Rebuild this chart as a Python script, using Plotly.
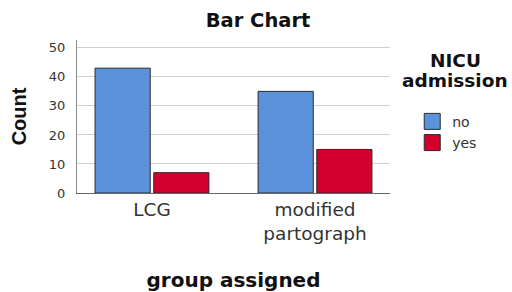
import plotly.graph_objects as go

categories = ["LCG", "modified<br>partograph"]
series_names = ["no", "yes"]
no_counts = [43, 35]
yes_counts = [7, 15]
y_ticks = [0, 10, 20, 30, 40, 50]

colors = ["#5B92DB", "#D3002F"]
font = "DejaVu Sans, Liberation Sans, sans-serif"

fig = go.Figure()
for name, vals, col in zip(series_names, [no_counts, yes_counts], colors):
    fig.add_trace(go.Bar(x=categories, y=vals, name=name, showlegend=False,
                         marker=dict(color=col, line=dict(color="#2a2a2a", width=1))))
# legend entries with larger square swatches
for name, col in zip(series_names, colors):
    fig.add_trace(go.Scatter(x=[None], y=[None], mode="markers", name=name,
                             marker=dict(symbol="square", size=16, color=col,
                                         line=dict(color="#2a2a2a", width=1))))

fig.update_layout(
    width=512, height=292,
    margin=dict(l=77, r=122, t=40, b=99),
    paper_bgcolor="white", plot_bgcolor="white",
    font=dict(family=font, color="#222222"),
    barmode="group", bargap=0.28, bargroupgap=0.06,
    title=dict(text="<b>Bar Chart</b>", x=0.504, xanchor="center", y=0.931, yanchor="middle",
               font=dict(size=19.5, color="#111111")),
    xaxis=dict(range=[-0.46, 1.46], showline=True, linecolor="#666666", linewidth=1, ticks="",
               automargin=False, tickfont=dict(size=18.5, color="#333333"),
               title=dict(text="<b>group assigned</b>", font=dict(size=20, color="#111111"), standoff=29)),
    yaxis=dict(range=[0, 52.7], tickvals=y_ticks, showline=True, linecolor="#888888", linewidth=1,
               showgrid=True, gridcolor="#d0d0d0", ticks="", ticklabelstandoff=8, automargin=False,
               tickfont=dict(size=13, color="#333333"), zeroline=False,
               title=dict(text="<b>Count</b>", font=dict(size=20, family="Liberation Sans, Arial, sans-serif",
                                                       color="#111111"), standoff=16)),
    legend=dict(x=1.071, xanchor="left", y=0.57, yanchor="top",
                font=dict(size=14, color="#333333"), itemwidth=30, tracegroupgap=0,
                itemsizing="trace"),
    annotations=[
        dict(text="<b>NICU</b>", xref="paper", yref="paper", x=1.208, y=(193 - 60) / 153,
             xanchor="center", yanchor="middle", showarrow=False, font=dict(size=18.5, color="#111111")),
        dict(text="<b>admission</b>", xref="paper", yref="paper", x=1.208, y=(193 - 80.5) / 153,
             xanchor="center", yanchor="middle", showarrow=False, font=dict(size=18.5, color="#111111")),
    ],
)

fig.write_html("out.html", config={"displayModeBar": False},
               post_script="document.body.style.margin='0';")
